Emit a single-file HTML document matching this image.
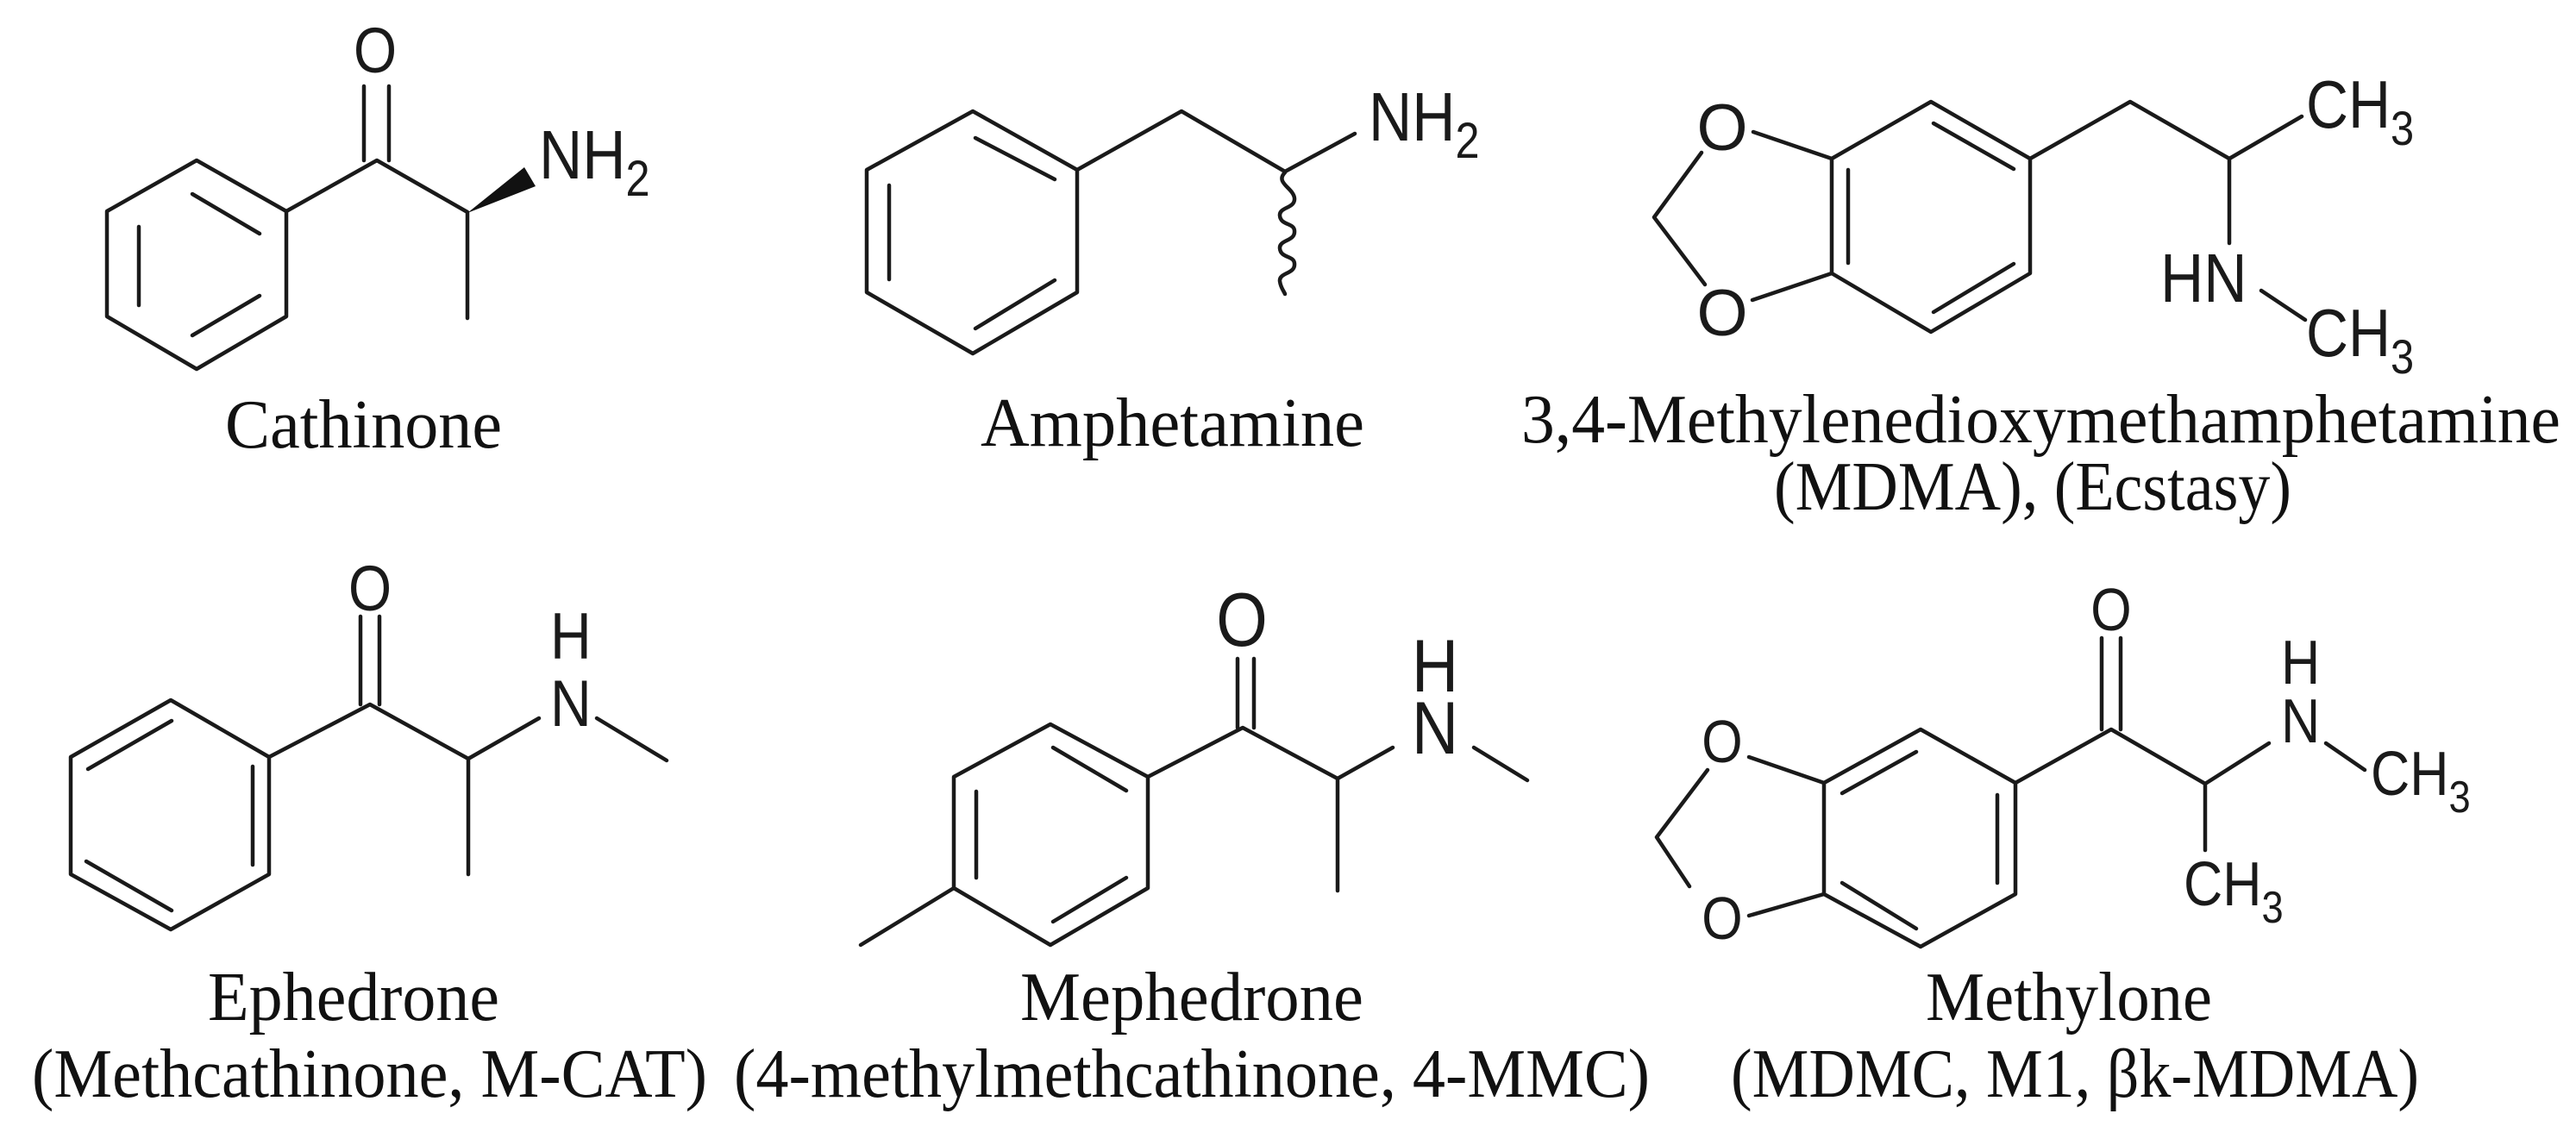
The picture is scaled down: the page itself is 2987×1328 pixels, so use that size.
<!DOCTYPE html>
<html><head><meta charset="utf-8"><style>
html,body{margin:0;padding:0;background:#fff;}
svg{display:block;}
.b{stroke:#1a1a1a;stroke-width:4.5;fill:none;stroke-linecap:round;stroke-linejoin:round;}
.a{font-family:"Liberation Sans",sans-serif;fill:#1a1a1a;}
.l{font-family:"Liberation Serif",serif;font-size:80px;fill:#111;}
</style></head><body>
<svg width="2987" height="1328" viewBox="0 0 2987 1328" xmlns="http://www.w3.org/2000/svg">
<rect width="2987" height="1328" fill="#fff"/>

<!-- Cathinone -->
<g class="b">
<polygon points="228,186 124,245 124,367 228,428 332,367 332,245"/>
<line x1="223" y1="225" x2="301" y2="271"/>
<line x1="161" y1="263" x2="161" y2="354"/>
<line x1="223" y1="389" x2="301" y2="343"/>
<polyline points="332,245 437,186 542,246 542,369"/>
<line x1="422" y1="100" x2="422" y2="186"/>
<line x1="451" y1="100" x2="451" y2="186"/>
</g>
<polygon points="542,247 608,194 621,216" fill="#111"/>
<text class="a" font-size="74" x="435" y="84" text-anchor="middle" transform="translate(435 0) scale(0.87 1) translate(-435 0)">O</text>
<g transform="translate(625 207) scale(0.87 1)"><text class="a" font-size="80">NH<tspan font-size="58" dy="20">2</tspan></text></g>
<text class="l" x="261" y="519" textLength="321" lengthAdjust="spacingAndGlyphs">Cathinone</text>

<!-- Amphetamine -->
<g class="b">
<polygon points="1128,129 1005,197 1005,339 1128,410 1249,339 1249,197"/>
<line x1="1031" y1="215" x2="1031" y2="324"/>
<line x1="1131" y1="160" x2="1223" y2="208"/>
<line x1="1131" y1="381" x2="1223" y2="325"/>
<polyline points="1249,197 1370,129 1490,199 1571,155"/>
<path d="M1490,200 C1478,212 1500,218 1501,230 C1502,242 1483,240 1484,250 C1485,262 1501,258 1501,268 C1502,280 1483,278 1484,288 C1485,300 1501,296 1501,306 C1502,318 1483,316 1484,326 C1485,334 1489,338 1490,341"/>
</g>
<g transform="translate(1587 163) scale(0.87 1)"><text class="a" font-size="80">NH<tspan font-size="58" dy="20">2</tspan></text></g>
<text class="l" x="1137" y="517" textLength="445" lengthAdjust="spacingAndGlyphs">Amphetamine</text>

<!-- MDMA -->
<g class="b">
<polygon points="2239,118 2124,184 2124,317 2239,385 2354,317 2354,184"/>
<line x1="2143" y1="197" x2="2143" y2="305"/>
<line x1="2242" y1="143" x2="2335" y2="196"/>
<line x1="2242" y1="362" x2="2335" y2="306"/>
<polyline points="2354,184 2470,118 2585,184 2669,135"/>
<line x1="2585" y1="184" x2="2585" y2="282"/>
<line x1="2622" y1="337" x2="2673" y2="371"/>
<line x1="2033" y1="153" x2="2124" y2="184"/>
<line x1="2032" y1="348" x2="2124" y2="317"/>
<polyline points="1973,177 1918,252 1977,330"/>
</g>
<text class="a" font-size="76" x="1997" y="174" text-anchor="middle">O</text>
<text class="a" font-size="76" x="1997" y="389" text-anchor="middle">O</text>
<g transform="translate(2674 148) scale(0.87 1)"><text class="a" font-size="78">CH<tspan font-size="56" dy="20">3</tspan></text></g>
<g transform="translate(2505 350) scale(0.87 1)"><text class="a" font-size="80">HN</text></g>
<g transform="translate(2674 413) scale(0.87 1)"><text class="a" font-size="78">CH<tspan font-size="56" dy="20">3</tspan></text></g>
<text class="l" x="1764" y="513" textLength="1205" lengthAdjust="spacingAndGlyphs">3,4-Methylenedioxymethamphetamine</text>
<text class="l" x="2057" y="591" textLength="600" lengthAdjust="spacingAndGlyphs">(MDMA), (Ecstasy)</text>

<!-- Ephedrone -->
<g class="b">
<polygon points="198,812 82,878 82,1014 198,1078 312,1014 312,878"/>
<line x1="102" y1="892" x2="199" y2="836"/>
<line x1="293" y1="889" x2="293" y2="1003"/>
<line x1="100" y1="999" x2="199" y2="1056"/>
<polyline points="312,878 429,817 543,880 625,833"/>
<line x1="543" y1="880" x2="543" y2="1014"/>
<line x1="418" y1="715" x2="418" y2="817"/>
<line x1="440" y1="715" x2="440" y2="817"/>
<line x1="692" y1="833" x2="773" y2="882"/>
</g>
<text class="a" font-size="74" x="429" y="708" text-anchor="middle" transform="translate(429 0) scale(0.87 1) translate(-429 0)">O</text>
<g transform="translate(638 842) scale(0.87 1)"><text class="a" font-size="76">N</text></g>
<g transform="translate(638 764) scale(0.87 1)"><text class="a" font-size="76">H</text></g>
<text class="l" x="241" y="1183" textLength="338" lengthAdjust="spacingAndGlyphs">Ephedrone</text>
<text class="l" x="37" y="1272" textLength="783" lengthAdjust="spacingAndGlyphs">(Methcathinone, M-CAT)</text>

<!-- Mephedrone -->
<g class="b">
<polygon points="1218,840 1106,901 1106,1030 1218,1096 1331,1030 1331,901"/>
<line x1="1221" y1="867" x2="1306" y2="917"/>
<line x1="1132" y1="918" x2="1132" y2="1018"/>
<line x1="1221" y1="1069" x2="1306" y2="1018"/>
<line x1="1106" y1="1030" x2="998" y2="1096"/>
<polyline points="1331,901 1441,844 1551,903 1615,867"/>
<line x1="1551" y1="903" x2="1551" y2="1033"/>
<line x1="1435" y1="764" x2="1435" y2="844"/>
<line x1="1454" y1="764" x2="1454" y2="844"/>
<line x1="1709" y1="867" x2="1771" y2="905"/>
</g>
<text class="a" font-size="88" x="1440" y="749" text-anchor="middle" transform="translate(1440 0) scale(0.87 1) translate(-1440 0)">O</text>
<g transform="translate(1637 874) scale(0.87 1)"><text class="a" font-size="86">N</text></g>
<g transform="translate(1637 802) scale(0.87 1)"><text class="a" font-size="86">H</text></g>
<text class="l" x="1183" y="1183" textLength="398" lengthAdjust="spacingAndGlyphs">Mephedrone</text>
<text class="l" x="851" y="1272" textLength="1062" lengthAdjust="spacingAndGlyphs">(4-methylmethcathinone, 4-MMC)</text>

<!-- Methylone -->
<g class="b">
<polygon points="2227,846 2115,908 2115,1037 2227,1098 2337,1037 2337,908"/>
<line x1="2136" y1="920" x2="2222" y2="872"/>
<line x1="2316" y1="922" x2="2316" y2="1024"/>
<line x1="2136" y1="1024" x2="2222" y2="1077"/>
<polyline points="2337,908 2448,846 2557,909 2631,862"/>
<line x1="2557" y1="909" x2="2557" y2="986"/>
<line x1="2437" y1="740" x2="2437" y2="846"/>
<line x1="2459" y1="740" x2="2459" y2="846"/>
<line x1="2697" y1="862" x2="2742" y2="893"/>
<line x1="2028" y1="878" x2="2115" y2="908"/>
<line x1="2028" y1="1062" x2="2115" y2="1037"/>
<polyline points="1980,893 1921,971 1959,1028"/>
</g>
<text class="a" font-size="70" x="2448" y="731" text-anchor="middle" transform="translate(2448 0) scale(0.87 1) translate(-2448 0)">O</text>
<text class="a" font-size="70" x="1997" y="884" text-anchor="middle" transform="translate(1997 0) scale(0.87 1) translate(-1997 0)">O</text>
<text class="a" font-size="70" x="1997" y="1089" text-anchor="middle" transform="translate(1997 0) scale(0.87 1) translate(-1997 0)">O</text>
<g transform="translate(2645 861) scale(0.87 1)"><text class="a" font-size="72">N</text></g>
<g transform="translate(2645 793) scale(0.87 1)"><text class="a" font-size="72">H</text></g>
<g transform="translate(2749 922) scale(0.87 1)"><text class="a" font-size="72">CH<tspan font-size="52" dy="20">3</tspan></text></g>
<g transform="translate(2532 1050) scale(0.87 1)"><text class="a" font-size="72">CH<tspan font-size="52" dy="20">3</tspan></text></g>
<text class="l" x="2233" y="1183" textLength="332" lengthAdjust="spacingAndGlyphs">Methylone</text>
<text class="l" x="2007" y="1272" textLength="798" lengthAdjust="spacingAndGlyphs">(MDMC, M1, βk-MDMA)</text>
</svg>
</body></html>
